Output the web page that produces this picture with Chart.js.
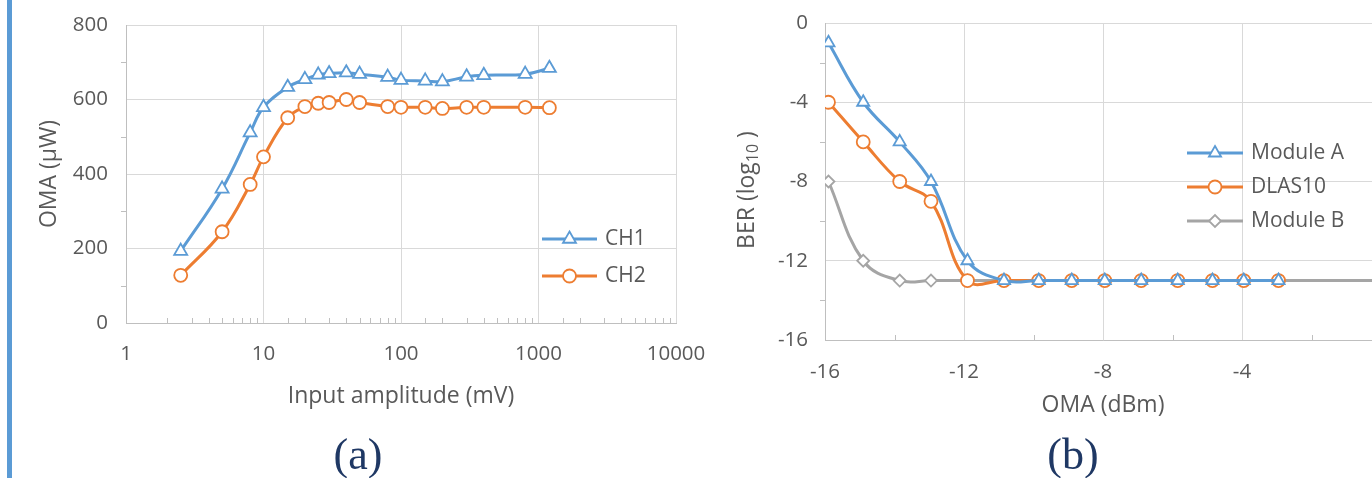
<!DOCTYPE html>
<html>
<head>
<meta charset="utf-8">
<script src="https://cdn.jsdelivr.net/npm/chart.js@4.4.1/dist/chart.umd.min.js"></script>
<style>
  html, body { margin: 0; padding: 0; background: #fff; overflow: hidden; width: 1372px; height: 478px; }
  #bar { position: absolute; left: 7px; top: 0; width: 5px; height: 478px; background: #5b9bd5; }
  #wrapA { position: absolute; left: 0; top: 0; width: 720px; height: 478px; }
  #wrapB { position: absolute; left: 700px; top: 0; width: 720px; height: 478px; }
  .cap { position: absolute; top: 428px; width: 120px; text-align: center; line-height: 54px;
         font-family: 'Liberation Serif', 'Times New Roman', serif; font-size: 44px; color: #1f3864; }
</style>
</head>
<body>
<div id="bar"></div>
<div id="wrapA"><canvas id="chartA" width="720" height="478"></canvas></div>
<div id="wrapB"><canvas id="chartB" width="720" height="478"></canvas></div>
<div class="cap" style="left:298px">(a)</div>
<div class="cap" style="left:1013px">(b)</div>
<script>
// (a) OMA vs input amplitude
var amplitude = [2.5, 5, 8, 10, 15, 20, 25, 30, 40, 50, 80, 100, 150, 200, 300, 400, 800, 1200];
var ch1 = [193, 360, 511, 579, 633, 654, 666, 670, 672, 668, 660, 652, 650, 648, 661, 665, 668, 684];
var ch2 = [128, 245, 372, 446, 551, 581, 590, 592, 600, 592, 581, 579, 579, 576, 579, 579, 579, 578];
var omaTicks = [0, 200, 400, 600, 800];

// (b) BER vs OMA
var omaDbm = [-15.9, -14.9, -13.85, -12.95, -11.9, -10.85, -9.85, -8.9, -7.95, -6.9, -5.85, -4.85, -3.95, -2.95];
var omaDbmB = [-15.9, -14.9, -13.85, -12.95, -11.9, -10.85, -9.85, -8.9, -7.95, -6.9, -5.85, -4.85, -3.95, -2.95, 0];
var moduleA = [-1, -4, -6, -8, -12, -13, -13, -13, -13, -13, -13, -13, -13, -13];
var dlas10 = [-4, -6, -8, -9, -13, -13, -13, -13, -13, -13, -13, -13, -13, -13];
var moduleB = [-8, -12, -13, -13, -13, -13, -13, -13, -13, -13, -13, -13, -13, -13, -13];
var berTicks = [0, -4, -8, -12, -16];
var dbmTicks = [-16, -12, -8, -4, 0];

var BLUE = '#5b9bd5', ORANGE = '#ed7d31', GRAY = '#a5a5a5';
var GRID = '#d9d9d9', AXIS = '#bfbfbf', TEXT = '#595959';
var FONT = '"Open Sans", sans-serif';

Chart.defaults.font.family = FONT;
Chart.defaults.color = TEXT;

function pts(xs, ys) {
    return xs.map(function (x, i) { return { x: x, y: ys[i] }; });
}

function isPow10(v) {
    var l = Math.log10(v);
    return Math.abs(l - Math.round(l)) < 1e-9;
}

function series(label, xs, ys, color, style, r) {
    return {
        label: label,
        data: pts(xs, ys),
        borderColor: color,
        borderWidth: 3,
        tension: 0.4,
        pointStyle: style,
        pointRadius: r,
        pointHoverRadius: r,
        pointBorderWidth: 1.8,
        pointBorderColor: color,
        pointBackgroundColor: '#ffffff'
    };
}

// small tick marks between the labelled values
var minorTicks = {
    id: 'minorTicks',
    afterDraw: function (chart, args, opts) {
        var ctx = chart.ctx, a = chart.chartArea;
        var sx = chart.scales.x, sy = chart.scales.y;
        ctx.save();
        ctx.strokeStyle = AXIS;
        ctx.lineWidth = 1;
        ctx.beginPath();
        sx.ticks.forEach(function (t) {
            if (opts.isMajorX(t.value)) return;
            var px = Math.round(sx.getPixelForValue(t.value)) + 0.5;
            ctx.moveTo(px, a.bottom);
            ctx.lineTo(px, a.bottom - 5);
        });
        sy.ticks.forEach(function (t) {
            if (opts.isMajorY(t.value)) return;
            var py = Math.round(sy.getPixelForValue(t.value)) + 0.5;
            ctx.moveTo(a.left, py);
            ctx.lineTo(a.left - 5, py);
        });
        ctx.stroke();
        ctx.restore();
    }
};

var lineLegend = {
    id: 'lineLegend',
    afterDraw: function (chart, args, opts) {
        var ctx = chart.ctx;
        chart.data.datasets.forEach(function (ds, i) {
            var y = opts.top + i * opts.gap;
            ctx.save();
            ctx.strokeStyle = ds.borderColor;
            ctx.lineWidth = ds.borderWidth;
            ctx.beginPath();
            ctx.moveTo(opts.x1, y);
            ctx.lineTo(opts.x2, y);
            ctx.stroke();
            ctx.fillStyle = ds.pointBackgroundColor;
            ctx.strokeStyle = ds.pointBorderColor;
            ctx.lineWidth = ds.pointBorderWidth;
            Chart.helpers.drawPoint(ctx, {
                pointStyle: ds.pointStyle, radius: ds.pointRadius,
                borderWidth: ds.pointBorderWidth, rotation: 0
            }, (opts.x1 + opts.x2) / 2, y);
            ctx.fillStyle = TEXT;
            ctx.font = '21px ' + FONT;
            ctx.textBaseline = 'middle';
            ctx.textAlign = 'left';
            ctx.fillText(ds.label, opts.textX, y);
            ctx.restore();
        });
    }
};

// y title with a subscript, for chart (b)
var subTitle = {
    id: 'subTitle',
    afterDraw: function (chart, args, opts) {
        if (!opts.parts) return;
        var ctx = chart.ctx;
        ctx.save();
        ctx.translate(opts.x, opts.y);
        ctx.rotate(-Math.PI / 2);
        ctx.fillStyle = TEXT;
        ctx.textBaseline = 'middle';
        ctx.textAlign = 'left';
        var total = 0;
        opts.parts.forEach(function (p) {
            ctx.font = p.size + 'px ' + FONT;
            total += ctx.measureText(p.text).width;
        });
        var x = -total / 2;
        opts.parts.forEach(function (p) {
            ctx.font = p.size + 'px ' + FONT;
            ctx.fillText(p.text, x, p.dy);
            x += ctx.measureText(p.text).width;
        });
        ctx.restore();
    }
};

function fixWidth(w) {
    return function (s) { s.width = w; s.paddingTop = 0; s.paddingBottom = 0; };
}
function fixHeight(h) {
    return function (s) { s.height = h; s.paddingLeft = 0; s.paddingRight = 0; };
}

new Chart(document.getElementById('chartA'), {
    type: 'line',
    data: {
        datasets: [
            series('CH1', amplitude, ch1, BLUE, 'triangle', 7.5),
            series('CH2', amplitude, ch2, ORANGE, 'circle', 6.5)
        ]
    },
    options: {
        responsive: false,
        animation: false,
        events: [],
        layout: { padding: { left: 0, top: 25, right: 44, bottom: 0 } },
        scales: {
            x: {
                type: 'logarithmic',
                min: 1,
                max: 10000,
                afterFit: fixHeight(155),
                border: { color: AXIS },
                grid: {
                    drawTicks: false,
                    color: function (c) { return c.tick && isPow10(c.tick.value) ? GRID : 'rgba(0,0,0,0)'; }
                },
                ticks: {
                    autoSkip: false,
                    maxRotation: 0,
                    padding: 19,
                    font: { size: 20.5 },
                    callback: function (v) { return isPow10(v) ? String(Math.round(v)) : ''; }
                },
                title: { display: true, text: 'Input amplitude (mV)', font: { size: 23 }, padding: { top: 0, bottom: 68 } }
            },
            y: {
                min: 0,
                max: 800,
                afterFit: fixWidth(126),
                border: { color: AXIS },
                grid: {
                    drawTicks: false,
                    color: function (c) { return c.tick && omaTicks.indexOf(c.tick.value) >= 0 ? GRID : 'rgba(0,0,0,0)'; }
                },
                ticks: {
                    stepSize: 100,
                    padding: 18,
                    font: { size: 20.5 },
                    callback: function (v) { return omaTicks.indexOf(v) >= 0 ? String(v) : ''; }
                },
                title: { display: true, text: 'OMA (\u00b5W)', font: { size: 23 }, padding: { top: 36, bottom: 0 } }
            }
        },
        plugins: {
            legend: { display: false },
            tooltip: { enabled: false },
            minorTicks: {
                isMajorX: isPow10,
                isMajorY: function (v) { return omaTicks.indexOf(v) >= 0; }
            },
            lineLegend: { x1: 542, x2: 597, textX: 605, top: 239, gap: 37 }
        }
    },
    plugins: [minorTicks, lineLegend]
});

new Chart(document.getElementById('chartB'), {
    type: 'line',
    data: {
        datasets: [
            series('Module A', omaDbm, moduleA, BLUE, 'triangle', 7),
            series('DLAS10', omaDbm, dlas10, ORANGE, 'circle', 6.5),
            series('Module B', omaDbmB, moduleB, GRAY, 'rectRot', 6)
        ]
    },
    options: {
        responsive: false,
        animation: false,
        events: [],
        layout: { padding: { left: 0, top: 23, right: 39, bottom: 0 } },
        scales: {
            x: {
                type: 'linear',
                min: -16,
                max: 0,
                afterFit: fixHeight(138),
                border: { color: AXIS },
                grid: {
                    drawTicks: false,
                    color: function (c) { return c.tick && dbmTicks.indexOf(c.tick.value) >= 0 ? GRID : 'rgba(0,0,0,0)'; }
                },
                ticks: {
                    stepSize: 2,
                    autoSkip: false,
                    maxRotation: 0,
                    padding: 20,
                    font: { size: 20.5 },
                    callback: function (v) { return dbmTicks.indexOf(v) >= 0 ? String(v) : ''; }
                },
                title: { display: true, text: 'OMA (dBm)', font: { size: 23 }, padding: { top: 0, bottom: 59 } }
            },
            y: {
                min: -16,
                max: 0,
                afterFit: fixWidth(125),
                border: { color: AXIS },
                grid: {
                    drawTicks: false,
                    color: function (c) { return c.tick && berTicks.indexOf(c.tick.value) >= 0 ? GRID : 'rgba(0,0,0,0)'; }
                },
                ticks: {
                    stepSize: 2,
                    padding: 17,
                    font: { size: 20.5 },
                    callback: function (v) { return berTicks.indexOf(v) >= 0 ? String(v) : ''; }
                }
            }
        },
        plugins: {
            legend: { display: false },
            tooltip: { enabled: false },
            minorTicks: {
                isMajorX: function (v) { return dbmTicks.indexOf(v) >= 0; },
                isMajorY: function (v) { return berTicks.indexOf(v) >= 0; }
            },
            lineLegend: { x1: 487, x2: 543, textX: 551, top: 153, gap: 34 },
            subTitle: {
                x: 47, y: 190,
                parts: [
                    { text: 'BER (log', size: 23, dy: 0 },
                    { text: '10', size: 16, dy: 6 },
                    { text: ' )', size: 23, dy: 0 }
                ]
            }
        }
    },
    plugins: [minorTicks, lineLegend, subTitle]
});
</script>
</body>
</html>
